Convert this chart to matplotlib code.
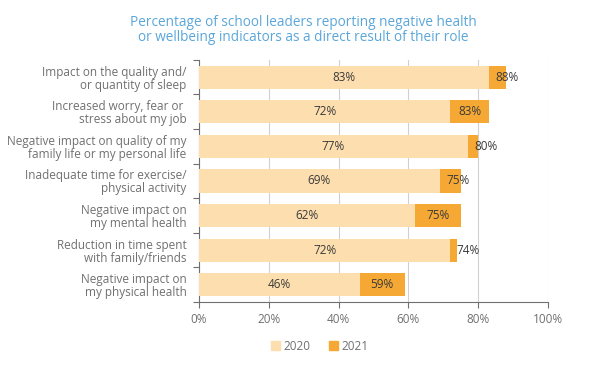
import matplotlib.pyplot as plt
import numpy as np
from matplotlib.patches import Patch

categories = [
    "Impact on the quality and/\nor quantity of sleep",
    "Increased worry, fear or \nstress about my job",
    "Negative impact on quality of my\nfamily life or my personal life",
    "Inadequate time for exercise/\nphysical activity",
    "Negative impact on\nmy mental health",
    "Reduction in time spent\nwith family/friends",
    "Negative impact on\nmy physical health",
]
vals_2020 = [83, 72, 77, 69, 62, 72, 46]
vals_2021 = [88, 83, 80, 75, 75, 74, 59]

c2020 = "#FDDEAE"
c2021 = "#F5A833"
grey = "#707070"
txt = "#3a3a3a"
fs = 8.5

plt.rcParams["font.family"] = ["Open Sans", "DejaVu Sans"]

fig = plt.figure(figsize=(6.15, 3.86), dpi=100)
ax = fig.add_axes([0.3236, 0.2176, 0.5675, 0.6274])

y = np.arange(len(categories))
ax.barh(y, vals_2021, height=0.67, color=c2021, zorder=2)
ax.barh(y, vals_2020, height=0.67, color=c2020, zorder=3)

for i, (a, b) in enumerate(zip(vals_2020, vals_2021)):
    ax.text(a / 2, i, f"{a}%", ha="center", va="center", fontsize=fs, color=txt, zorder=4)
    if b - a >= 8:
        ax.text((a + b) / 2, i, f"{b}%", ha="center", va="center", fontsize=fs, color=txt, zorder=4)
    else:
        ax.text(a + 1.8, i, f"{b}%", ha="left", va="center", fontsize=fs, color=txt, zorder=4)

ax.set_xlim(0, 100)
ax.set_ylim(len(categories) - 0.5, -0.5)
ax.set_xticks(range(0, 101, 20))
ax.set_xticklabels([f"{v}%" for v in range(0, 101, 20)], fontsize=fs, color=grey)
ax.set_yticks(y)
ax.set_yticklabels(categories, fontsize=fs, color=grey, linespacing=1.0)
ax.set_yticks(np.arange(-0.5, len(categories), 1), minor=True)
ax.tick_params(axis="y", which="major", length=0, pad=9)
ax.tick_params(axis="y", which="minor", length=4, color=grey, width=0.8)
ax.tick_params(axis="x", length=4, color=grey, width=0.8, pad=4)
ax.grid(axis="x", color="#d0d0d0", linewidth=0.8, zorder=0)
ax.set_axisbelow(True)
for s in ["top", "right"]:
    ax.spines[s].set_visible(False)
for s in ["left", "bottom"]:
    ax.spines[s].set_color(grey)
    ax.spines[s].set_linewidth(0.8)

fig.text(0.493, 0.922, "Percentage of school leaders reporting negative health\nor wellbeing indicators as a direct result of their role",
         ha="center", va="center", fontsize=9.8, color="#5AA6DA", linespacing=1.05)

handles = [Patch(color=c2020, label="2020"), Patch(color=c2021, label="2021")]
fig.legend(handles=handles, loc="center", bbox_to_anchor=(0.52, 0.103), ncol=2, frameon=False,
           fontsize=fs, labelcolor=grey, handlelength=0.8, handleheight=0.8,
           handletextpad=0.3, columnspacing=1.5)

fig.savefig("out.png", dpi=100)
